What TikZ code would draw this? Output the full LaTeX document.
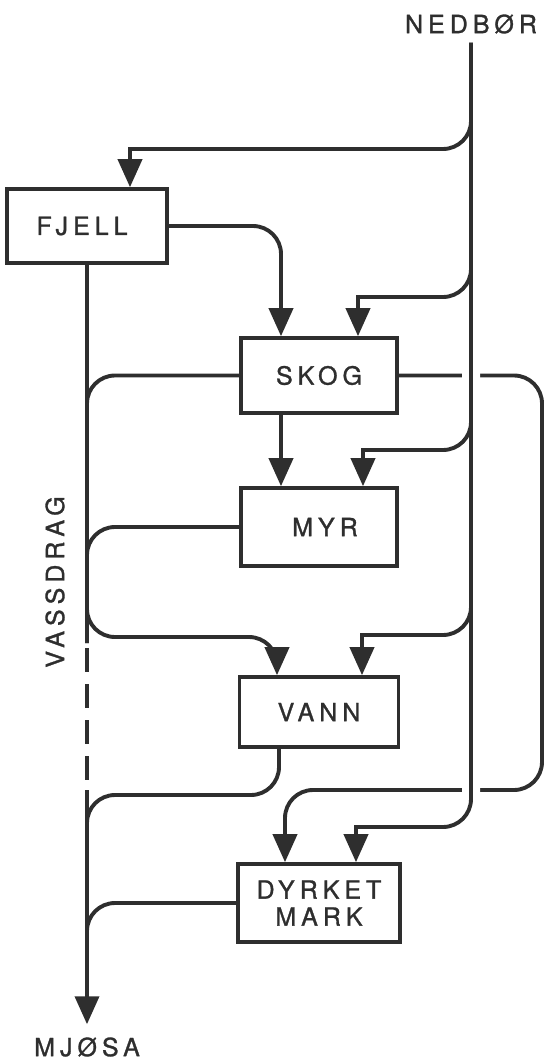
\documentclass[tikz,border=0pt]{standalone}
\usepackage{fontspec}
\newfontfamily\etikett[LetterSpace=20, FakeBold=1.2]{TeX Gyre Heros}
\usetikzlibrary{arrows.meta,calc}
\definecolor{blekk}{gray}{0.18}

\begin{document}
\begin{tikzpicture}[x=1pt, y=-1pt, >={Triangle[width=24pt,length=28pt]}]
    % stiler
    \tikzstyle{boks} = [draw=blekk, line width=3.6pt, inner sep=0pt, minimum width=156pt, minimum height=75pt, font=\etikett\fontsize{25}{27}\selectfont, text=blekk, align=center]
    \tikzstyle{tekst} = [inner sep=0pt, font=\etikett\fontsize{25}{27}\selectfont, text=blekk]
    \tikzstyle{strom} = [draw=blekk, line width=3.9pt, rounded corners=28pt]
    \tikzstyle{pil} = [strom, ->]

    \useasboundingbox (0,0) rectangle (548,1060);

    % ================= tekster og bokser =================
    \node[tekst] (nedbor) at (471,24) {NEDBØR};
    \node[tekst] (mjosa) at (87,1047) {MJØSA};
    \node[tekst, rotate=90] (vassdrag) at (55,582) {VASSDRAG};

    \node[boks, minimum width=160pt, minimum height=74pt] (fjell) at (87,226) {FJELL\hspace*{10pt}};
    \node[boks] (skog) at (319,375.5) {SKOG};
    \node[boks, minimum height=78pt] (myr) at (319,527) {\hspace*{12pt}MYR};
    \node[boks, minimum width=159pt, minimum height=70pt] (vann) at (319,712) {VANN};
    \node[boks, minimum width=162pt, minimum height=78pt] (dyrket) at (319,903) {DYRKET\\MARK};

    % ================= SKOG til DYRKET MARK (utenom) =================
    \draw[pil] (skog.east) -- (542,375.5) -- (542,790) -- (285,790) -- ($(dyrket.north)+(-34,0)$);

    % ================= nedbør =================
    \draw[pil, shorten <=9pt, preaction={draw=white, line width=18pt}] (nedbor.south) -- (471,827) [sharp corners] -- (356,827) -- ($(dyrket.north)+(37,0)$);
    \draw[pil, shorten <=9pt] (nedbor.south) -- (471,149) [sharp corners] -- (130,149) -- ($(fjell.north)+(43,0)$);
    \draw[pil, shorten <=9pt] (nedbor.south) -- (471,297) [sharp corners] -- (358,297) -- ($(skog.north)+(39,0)$);
    \draw[pil, shorten <=9pt] (nedbor.south) -- (471,450) [sharp corners] -- (363,450) -- ($(myr.north)+(44,0)$);
    \draw[pil, shorten <=9pt] (nedbor.south) -- (471,635) [sharp corners] -- (362,635) -- ($(vann.north)+(43,0)$);

    % ================= mellom boksene =================
    \draw[pil] (fjell.east) -| ($(skog.north)+(-38,0)$);
    \draw[pil] ($(skog.south)+(-38,0)$) -- ($(myr.north)+(-38,0)$);

    % ================= vassdrag =================
    \coordinate (d1) at (87,643);
    \coordinate (d2) at (87,790);
    \coordinate (ut) at (87,960);
    \draw[strom] (fjell.south) -- (d1);
    \draw[strom, dash pattern=on 24pt off 12pt, dash phase=31pt] (d1) -- (d2);
    \draw[pil] (d2) -- ([yshift=13pt]mjosa.north);

    \draw[strom] (skog.west) -| (d1);
    \draw[strom] (myr.west) -| (d1);
    \draw[pil] (fjell.south) |- (277,637) [sharp corners] -- ($(vann.north)+(-42,0)$);
    \draw[strom] ($(vann.south)+(-40,0)$) -- (279,795) -| (ut);
    \draw[strom] (dyrket.west) -| (ut);

\end{tikzpicture}
\end{document}
